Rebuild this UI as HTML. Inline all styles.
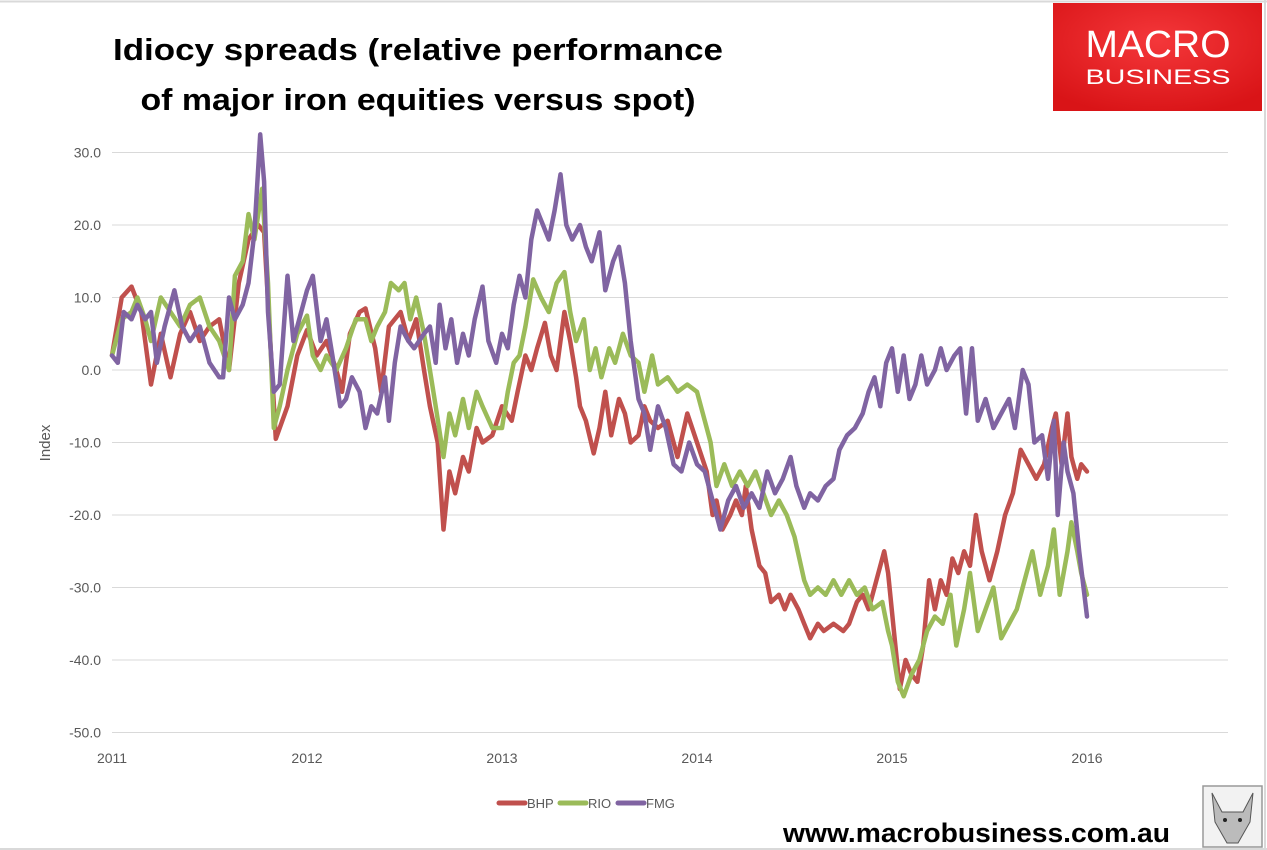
<!DOCTYPE html>
<html><head><meta charset="utf-8"><style>
body{margin:0;background:#fff;}
svg{display:block;font-family:"Liberation Sans",sans-serif;}
</style></head><body>
<svg id="chart" width="1267" height="850">
<rect x="0" y="0" width="1267" height="850" fill="#fff"/>
<line x1="0" y1="1.5" x2="1267" y2="1.5" stroke="#d9d9d9" stroke-width="2"/>
<line x1="1265" y1="0" x2="1265" y2="850" stroke="#d9d9d9" stroke-width="2"/>
<line x1="0" y1="849" x2="1267" y2="849" stroke="#d9d9d9" stroke-width="2"/>
<g>
<text x="418" y="60" text-anchor="middle" font-size="31" font-weight="bold" textLength="610" lengthAdjust="spacingAndGlyphs">Idiocy spreads (relative performance</text>
<text x="418" y="110" text-anchor="middle" font-size="31" font-weight="bold" textLength="555" lengthAdjust="spacingAndGlyphs">of major iron equities versus spot)</text>
</g>
<defs><radialGradient id="lg" cx="50%" cy="35%" r="70%"><stop offset="0" stop-color="#f4373a"/><stop offset="1" stop-color="#d91417"/></radialGradient></defs>
<g>
<rect x="1053" y="3" width="209" height="108" fill="url(#lg)"/>
<text x="1158" y="57" text-anchor="middle" font-size="38" fill="#fff" textLength="145" lengthAdjust="spacingAndGlyphs">MACRO</text>
<text x="1158" y="84" text-anchor="middle" font-size="21" fill="#fff" textLength="145" lengthAdjust="spacingAndGlyphs">BUSINESS</text>
</g>
<g id="grid"></g><g id="axes"></g><g id="series"></g>
<text transform="translate(50,443) rotate(-90)" text-anchor="middle" font-size="15" fill="#595959">Index</text>
<g>
<line x1="499" y1="803" x2="525" y2="803" stroke="#c0504d" stroke-width="5" stroke-linecap="round"/>
<text x="527" y="808" font-size="13" fill="#595959">BHP</text>
<line x1="560" y1="803" x2="586" y2="803" stroke="#9bbb59" stroke-width="5" stroke-linecap="round"/>
<text x="588" y="808" font-size="13" fill="#595959">RIO</text>
<line x1="618" y1="803" x2="644" y2="803" stroke="#8064a2" stroke-width="5" stroke-linecap="round"/>
<text x="646" y="808" font-size="13" fill="#595959">FMG</text>
</g>
<text x="783" y="842" font-size="27" font-weight="bold" fill="#000" textLength="387" lengthAdjust="spacingAndGlyphs">www.macrobusiness.com.au</text>
<g>
<rect x="1203" y="786" width="59" height="61" fill="#f2f2f2" stroke="#999" stroke-width="1.5"/>
<path d="M1212 793 L1222 812 L1243 812 L1253 793 L1250 822 L1238 843 L1227 843 L1215 822 Z" fill="#bbb" stroke="#555" stroke-width="1"/>
<circle cx="1225" cy="820" r="2" fill="#222"/><circle cx="1240" cy="820" r="2" fill="#222"/>
</g>
</svg>
<script>
const yTicks=[30,20,10,0,-10,-20,-30,-40,-50];
const xTicks=[2011,2012,2013,2014,2015,2016];
const bhpT=[2011.0,2011.05,2011.1,2011.15,2011.2,2011.25,2011.3,2011.35,2011.4,2011.45,2011.5,2011.55,2011.6,2011.65,2011.7,2011.75,2011.78,2011.84,2011.9,2011.95,2012.0,2012.05,2012.1,2012.15,2012.18,2012.22,2012.27,2012.3,2012.35,2012.38,2012.42,2012.48,2012.52,2012.56,2012.6,2012.63,2012.67,2012.7,2012.73,2012.76,2012.8,2012.83,2012.87,2012.9,2012.95,2013.0,2013.05,2013.08,2013.12,2013.15,2013.18,2013.22,2013.25,2013.28,2013.32,2013.35,2013.38,2013.4,2013.43,2013.47,2013.5,2013.53,2013.56,2013.6,2013.63,2013.66,2013.7,2013.73,2013.76,2013.8,2013.85,2013.9,2013.95,2014.0,2014.05,2014.08,2014.1,2014.13,2014.17,2014.2,2014.23,2014.25,2014.28,2014.32,2014.35,2014.38,2014.42,2014.45,2014.48,2014.52,2014.55,2014.58,2014.62,2014.65,2014.7,2014.75,2014.78,2014.82,2014.85,2014.88,2014.92,2014.96,2014.98,2015.01,2015.04,2015.07,2015.1,2015.13,2015.16,2015.19,2015.22,2015.25,2015.28,2015.31,2015.34,2015.37,2015.4,2015.43,2015.46,2015.5,2015.54,2015.58,2015.62,2015.66,2015.7,2015.74,2015.78,2015.82,2015.84,2015.87,2015.9,2015.92,2015.95,2015.97,2016.0];
const bhpV=[2,10,11.5,8,-2,5,-1,5,8,4,6,7,0,12,18,20,19,-9.5,-5,2,5.5,2,4,0,-3,5,8,8.5,3,-3,6,8,4,7,0,-5,-10,-22,-14,-17,-12,-14,-8,-10,-9,-5,-7,-3,2,0,3,6.5,2,0,8,4,-1,-5,-7,-11.5,-8,-3,-9,-4,-6,-10,-9,-5,-7,-8,-7,-12,-6,-10,-14,-20,-18,-22,-20,-18,-20,-16,-22,-27,-28,-32,-31,-33,-31,-33,-35,-37,-35,-36,-35,-36,-35,-32,-31,-33,-29,-25,-28,-36,-44,-40,-42,-43,-38,-29,-33,-29,-31,-26,-28,-25,-27,-20,-25,-29,-25,-20,-17,-11,-13,-15,-13,-8,-6,-13,-6,-12,-15,-13,-14];
const rioT=[2011.0,2011.05,2011.1,2011.13,2011.17,2011.2,2011.25,2011.3,2011.35,2011.4,2011.45,2011.5,2011.55,2011.6,2011.63,2011.67,2011.7,2011.73,2011.77,2011.8,2011.83,2011.86,2011.9,2011.95,2012.0,2012.03,2012.07,2012.1,2012.15,2012.2,2012.25,2012.3,2012.33,2012.36,2012.4,2012.43,2012.47,2012.5,2012.53,2012.56,2012.6,2012.63,2012.66,2012.7,2012.73,2012.76,2012.8,2012.83,2012.87,2012.9,2012.95,2013.0,2013.03,2013.06,2013.09,2013.12,2013.16,2013.2,2013.24,2013.28,2013.32,2013.35,2013.38,2013.42,2013.45,2013.48,2013.51,2013.55,2013.58,2013.62,2013.66,2013.7,2013.73,2013.77,2013.8,2013.85,2013.9,2013.95,2014.0,2014.04,2014.07,2014.1,2014.14,2014.18,2014.22,2014.26,2014.3,2014.34,2014.38,2014.42,2014.46,2014.5,2014.55,2014.58,2014.62,2014.66,2014.7,2014.74,2014.78,2014.82,2014.86,2014.9,2014.95,2014.98,2015.0,2015.03,2015.06,2015.1,2015.14,2015.18,2015.22,2015.26,2015.3,2015.33,2015.37,2015.4,2015.44,2015.48,2015.52,2015.56,2015.6,2015.64,2015.68,2015.72,2015.76,2015.8,2015.83,2015.86,2015.9,2015.92,2015.95,2015.97,2016.0];
const rioV=[2,7,8,10,7,4,10,8,6,9,10,6,4,0,13,15,21.5,18,25,12,-8,-5,0,5,7.5,2,0,2,0,3,7,7,4,6,8,12,11,12,7,10,5,0,-5,-12,-6,-9,-4,-8,-3,-5,-8,-8,-3,1,2,6,12.5,10,8,12,13.5,8,4,7,0,3,-1,3,1,5,2,1,-3,2,-2,-1,-3,-2,-3,-7,-10,-16,-13,-16,-14,-16,-14,-17,-20,-18,-20,-23,-29,-31,-30,-31,-29,-31,-29,-31,-30,-33,-32,-36,-38,-43,-45,-42,-40,-36,-34,-35,-31,-38,-33,-28,-36,-33,-30,-37,-35,-33,-29,-25,-31,-27,-22,-31,-25,-21,-25,-28,-31];
const fmgT=[2011.0,2011.03,2011.06,2011.1,2011.13,2011.17,2011.2,2011.23,2011.27,2011.32,2011.36,2011.4,2011.45,2011.5,2011.55,2011.57,2011.6,2011.63,2011.67,2011.7,2011.73,2011.76,2011.78,2011.8,2011.83,2011.86,2011.9,2011.93,2011.97,2012.0,2012.03,2012.07,2012.1,2012.13,2012.17,2012.2,2012.23,2012.27,2012.3,2012.33,2012.36,2012.4,2012.42,2012.45,2012.48,2012.52,2012.55,2012.6,2012.63,2012.66,2012.68,2012.71,2012.74,2012.77,2012.8,2012.83,2012.86,2012.9,2012.93,2012.97,2013.0,2013.03,2013.06,2013.09,2013.12,2013.15,2013.18,2013.21,2013.24,2013.27,2013.3,2013.33,2013.36,2013.4,2013.43,2013.46,2013.5,2013.53,2013.57,2013.6,2013.63,2013.66,2013.7,2013.73,2013.76,2013.8,2013.84,2013.88,2013.92,2013.96,2014.0,2014.04,2014.08,2014.12,2014.16,2014.2,2014.24,2014.28,2014.32,2014.36,2014.4,2014.44,2014.48,2014.51,2014.55,2014.58,2014.62,2014.66,2014.7,2014.73,2014.77,2014.81,2014.85,2014.88,2014.91,2014.94,2014.97,2015.0,2015.03,2015.06,2015.09,2015.12,2015.15,2015.18,2015.22,2015.25,2015.28,2015.32,2015.35,2015.38,2015.41,2015.44,2015.48,2015.52,2015.56,2015.6,2015.63,2015.67,2015.7,2015.73,2015.77,2015.8,2015.83,2015.85,2015.88,2015.9,2015.93,2015.96,2016.0];
const fmgV=[2,1,8,7,9,7,8,1,6,11,6,4,6,1,-1,-1,10,7,9,12,19,32.5,26,8,-3,-2,13,4,8,11,13,4,7,2,-5,-4,-1,-3,-8,-5,-6,-1,-7,1,6,4,3,5,6,1,9,3,7,1,5,2,7,11.5,4,1,5,3,9,13,10,18,22,20,18,22,27,20,18,20,17,15,19,11,15,17,12,4,-4,-6,-11,-5,-8,-13,-14,-10,-13,-14,-18,-22,-18,-16,-19,-17,-19,-14,-17,-15,-12,-16,-19,-17,-18,-16,-15,-11,-9,-8,-6,-3,-1,-5,1,3,-3,2,-4,-2,2,-2,0,3,0,2,3,-6,3,-7,-4,-8,-6,-4,-8,0,-2,-10,-9,-15,-7,-20,-10,-14,-17,-25,-34];
const NS='http://www.w3.org/2000/svg';
const X0=112,PXY=195,Y0=370,PXV=7.25;
function xs(t){return X0+(t-2011)*PXY;}
function ys(v){return Y0-v*PXV;}
const grid=document.getElementById('grid'),axes=document.getElementById('axes'),ser=document.getElementById('series');
yTicks.forEach(v=>{
 const l=document.createElementNS(NS,'line');
 l.setAttribute('x1',112);l.setAttribute('x2',1228);l.setAttribute('y1',ys(v));l.setAttribute('y2',ys(v));
 l.setAttribute('stroke','#d9d9d9');l.setAttribute('stroke-width','1');
 
 
 grid.appendChild(l);
 const t=document.createElementNS(NS,'text');
 t.setAttribute('x',101);t.setAttribute('y',ys(v)+5);t.setAttribute('text-anchor','end');
 t.setAttribute('font-size','14');t.setAttribute('fill','#595959');
 t.textContent=v.toFixed(1);
 
 
 axes.appendChild(t);
});
xTicks.forEach(v=>{
 const t=document.createElementNS(NS,'text');
 t.setAttribute('x',xs(v));t.setAttribute('y',763);t.setAttribute('text-anchor','middle');
 t.setAttribute('font-size','14');t.setAttribute('fill','#595959');
 t.textContent=v;
 
 
 axes.appendChild(t);
});
function draw(T,V,color,name){
 const p=document.createElementNS(NS,'polyline');
 p.setAttribute('points',T.map((t,i)=>xs(t).toFixed(1)+','+ys(V[i]).toFixed(1)).join(' '));
 p.setAttribute('fill','none');p.setAttribute('stroke',color);p.setAttribute('stroke-width','4.5');
 p.setAttribute('stroke-linejoin','round');p.setAttribute('stroke-linecap','round');
 
 
 ser.appendChild(p);
}
draw(bhpT,bhpV,'#c0504d','bhp-line');
draw(rioT,rioV,'#9bbb59','rio-line');
draw(fmgT,fmgV,'#8064a2','fmg-line');
</script>
</body></html>
